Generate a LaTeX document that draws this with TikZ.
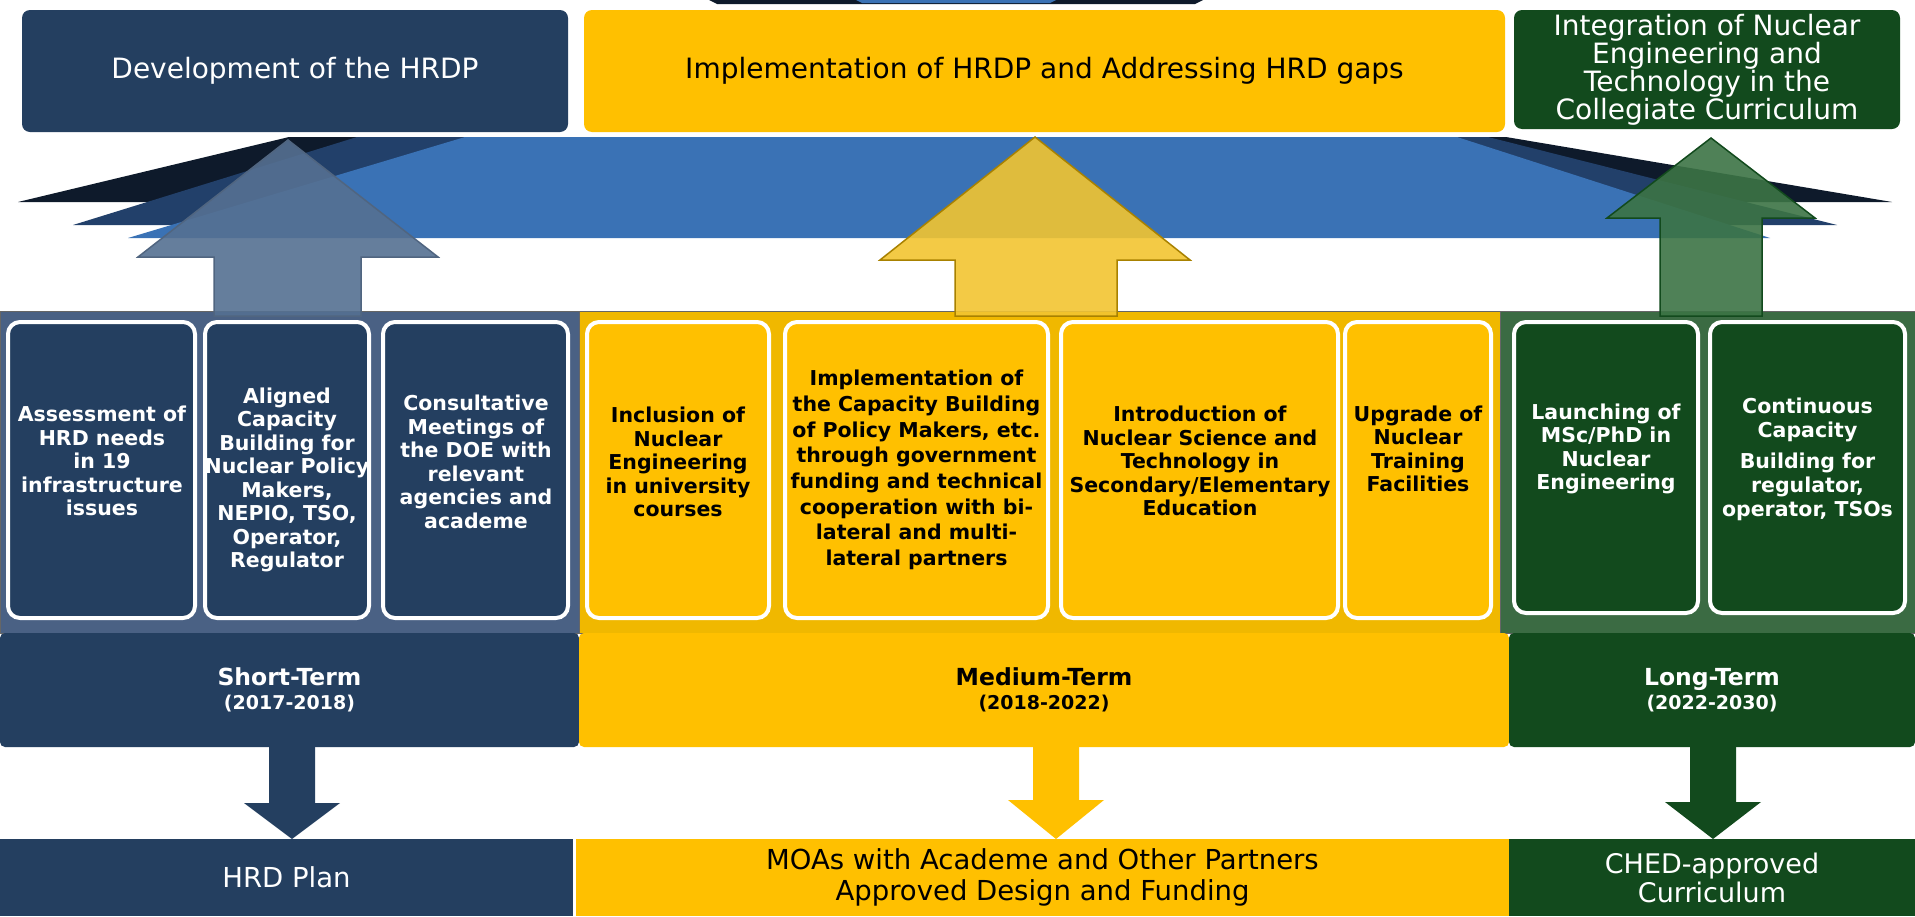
\documentclass[tikz,border=0pt]{standalone}
\usepackage{fontspec}
\setmainfont{DejaVu Sans}
\usetikzlibrary{calc}
\definecolor{navy}{HTML}{243F60}
\definecolor{gold}{HTML}{FFC000}
\definecolor{dgreen}{HTML}{124A1D}
\definecolor{bannerblue}{HTML}{3A72B5}
\definecolor{bannermid}{HTML}{22406A}
\definecolor{bannerdark}{HTML}{0E1A2B}
\definecolor{navyframe}{HTML}{4A6184}
\definecolor{goldframe}{HTML}{F0B800}
\definecolor{greenframe}{HTML}{3B6B43}
\definecolor{arrowgrey}{HTML}{557092}
\definecolor{arrowgold}{HTML}{F2C531}
\definecolor{arrowgreen}{HTML}{3C7445}
\newcommand\blkdown[5]{%
  \fill[#1] let \p1=(#3.south), \p2=(#4.north) in
    (#2-23,\y1) -- (#2+23,\y1) -- (#2+23,#5) -- (#2+48,#5) -- (#2,\y2)
    -- (#2-48,#5) -- (#2-23,#5) -- cycle;}
\begin{document}
\begin{tikzpicture}[x=1pt,y=-1pt,
  topbox/.style={rounded corners=8pt, inner sep=0pt, outer sep=0pt, align=center,
    font=\fontsize{28}{28}\selectfont},
  panel/.style={inner sep=0pt, outer sep=0pt, draw=black!60, line width=1pt},
  ibox/.style={draw=white, line width=4pt, rounded corners=12pt, inner sep=0pt,
    minimum height=296pt},
  itext/.style={align=center, inner sep=0pt, font=\bfseries\fontsize{20.5}{23.5}\selectfont},
  termbox/.style={inner sep=0pt, outer sep=0pt, minimum height=114pt, rounded corners=5pt,
    align=center, font=\bfseries\fontsize{23.5}{25}\selectfont},
  yrs/.style={},
  endbox/.style={inner sep=0pt, outer sep=0pt, minimum height=77pt, align=center,
    font=\fontsize{27.5}{31}\selectfont},
  uparrow/.style={line width=1.5pt, fill opacity=0.9, line join=miter}
]
\useasboundingbox (0,0) rectangle (1915,916);
\fill[white] (0,0) rectangle (1915,916);

% top dark sliver
\fill[bannerdark] (709,0) -- (1203,0) -- (1195,4) -- (717,4) -- cycle;
\fill[bannerblue] (856,0) -- (1056,0) -- (1050,3) -- (862,3) -- cycle;

% blue banner (layered)
\fill[bannerdark] (18,202) -- (289,137) -- (1506,137) -- (1892,202) -- cycle;
\fill[bannermid] (73,225) -- (357,137) -- (1488,137) -- (1837,225) -- cycle;
\fill[bannerblue] (128,238) -- (465,137) -- (1457,137) -- (1770,238) -- cycle;

% top boxes
\node[topbox, fill=navy, text=white, minimum width=546pt, minimum height=122pt]
  (dev) at (295,71) {Development of the HRDP};
\node[topbox, fill=gold, text=black, minimum width=921pt, minimum height=122pt]
  (impl) at (1044.5,71) {Implementation of HRDP and Addressing HRD gaps};
\node[topbox, fill=dgreen, text=white, minimum width=386pt, minimum height=119pt]
  (integ) at (1707,69.5) {Integration of Nuclear\\Engineering and\\Technology in the\\Collegiate Curriculum};

% panels
\node[panel, fill=navyframe, minimum width=579pt, minimum height=322pt] (pl) at (289.5,472) {};
\node[panel, fill=goldframe, minimum width=921pt, minimum height=322pt] (pm) at (1039.5,472) {};
\node[panel, fill=greenframe, minimum width=415pt, minimum height=322pt] (pr) at (1707.5,472) {};

% upward block arrows
\filldraw[uparrow, fill=arrowgrey, draw=navy!80]
  (214,316) -- (214,257) -- (138,257) -- (288,140) -- (438,257) -- (361,257) -- (361,316) -- cycle;
\filldraw[uparrow, fill=arrowgold, draw=goldframe!70!black]
  (955,316) -- (955,260) -- (880,260) -- (1035,137) -- (1190,260) -- (1117,260) -- (1117,316) -- cycle;
\filldraw[uparrow, fill=arrowgreen, draw=dgreen]
  (1660,316) -- (1660,218) -- (1607,218) -- (1711,138) -- (1815,218) -- (1762,218) -- (1762,316) -- cycle;

% inner boxes
\node[ibox, fill=navy, minimum width=187pt] (l1) at (101.5,470) {};
\node[ibox, fill=navy, minimum width=164pt] (l2) at (287,470) {};
\node[ibox, fill=navy, minimum width=185pt] (l3) at (475.5,470) {};
\node[ibox, fill=gold, minimum width=182pt] (m1) at (678,470) {};
\node[ibox, fill=gold, minimum width=263pt] (m2) at (916.5,470) {};
\node[ibox, fill=gold, minimum width=277pt] (m3) at (1199.5,470) {};
\node[ibox, fill=gold, minimum width=146pt] (m4) at (1418,470) {};
\node[ibox, fill=dgreen, minimum width=184pt, minimum height=291pt] (g1) at (1606,467.5) {};
\node[ibox, fill=dgreen, minimum width=195pt, minimum height=291pt] (g2) at (1807.5,467.5) {};

\node[itext, text=white] (t1) at (102,461) {Assessment of\\HRD needs\\in 19\\infrastructure\\issues};
\node[itext, text=white] (t2) at (287,480) {Aligned\\Capacity\\Building for\\Nuclear Policy\\Makers,\\NEPIO, TSO,\\Operator,\\Regulator};
\node[itext, text=white] (t3) at (476,462) {Consultative\\Meetings of\\the DOE with\\relevant\\agencies and\\academe};
\node[itext, text=black] (t4) at (678,462) {Inclusion of\\Nuclear\\Engineering\\in university\\courses};
\node[itext, text=black, font=\bfseries\fontsize{20.5}{25.7}\selectfont] (t5) at (916.5,470)
  {Implementation of\\the Capacity Building\\of Policy Makers, etc.\\through government\\funding and technical\\cooperation with bi-\\lateral and multi-\\lateral partners};
\node[itext, text=black] (t6) at (1200,461) {Introduction of\\Nuclear Science and\\Technology in\\Secondary/Elementary\\Education};
\node[itext, text=black] (t7) at (1418,449) {Upgrade of\\Nuclear\\Training\\Facilities};
\node[itext, text=white] (t8) at (1606,449) {Launching of\\MSc/PhD in\\Nuclear\\Engineering};
\node[itext, text=white, font=\bfseries\fontsize{20.5}{24}\selectfont] (t9) at (1807.5,459)
  {Continuous\\Capacity\\[7pt]Building for\\regulator,\\operator, TSOs};

% term boxes
\node[termbox, fill=navy, text=white, minimum width=579pt] (st) at (289.5,690)
  {Short-Term\\[-1pt]{\fontsize{19}{22}\selectfont (2017-2018)}};
\node[termbox, fill=gold, text=black, minimum width=930pt] (mt) at (1044,690)
  {Medium-Term\\[-1pt]{\fontsize{19}{22}\selectfont (2018-2022)}};
\node[termbox, fill=dgreen, text=white, minimum width=406pt] (lt) at (1712,690)
  {Long-Term\\[-1pt]{\fontsize{19}{22}\selectfont (2022-2030)}};

% end boxes
\node[endbox, fill=navy, text=white, minimum width=573pt] (hrd) at (286.5,877.5) {HRD Plan};
\node[endbox, fill=gold, text=black, minimum width=933pt] (moa) at (1042.5,877.5)
  {MOAs with Academe and Other Partners\\Approved Design and Funding};
\node[endbox, fill=dgreen, text=white, minimum width=406pt, font=\fontsize{27}{29}\selectfont] (ched) at (1712,877.5)
  {CHED-approved\\Curriculum};

% downward block arrows
\blkdown{navy}{292}{st}{hrd}{803}
\blkdown{gold}{1056}{mt}{moa}{800}
\blkdown{dgreen}{1713}{lt}{ched}{802}
\end{tikzpicture}
\end{document}
